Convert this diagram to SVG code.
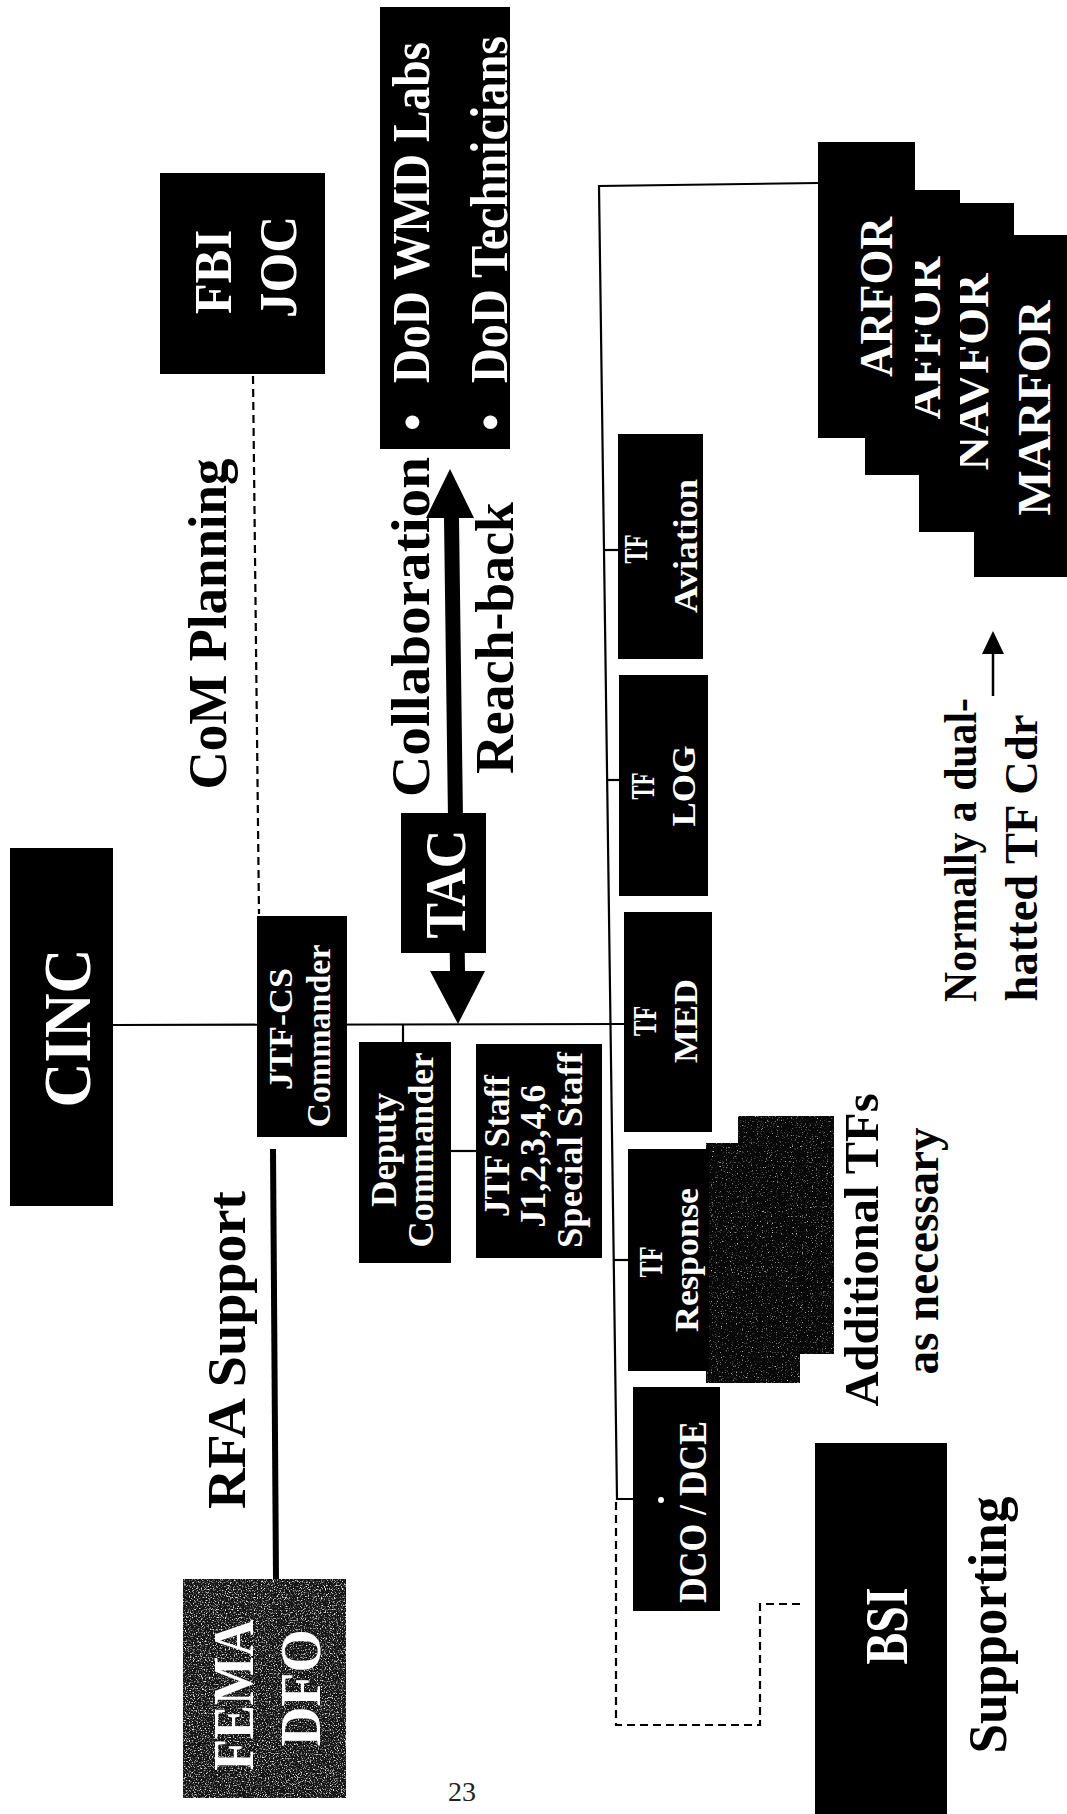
<svg xmlns="http://www.w3.org/2000/svg" width="1067" height="1814" viewBox="0 0 1067 1814">
<defs>
<style>
.w{fill:#fff;font-family:"Liberation Serif","Times New Roman",serif;font-weight:bold}
.k{fill:#000;font-family:"Liberation Serif","Times New Roman",serif;font-weight:bold}
.box{fill:#000}
.ln{stroke:#000;stroke-width:2.2;fill:none}
.dash{stroke:#000;stroke-width:2.2;fill:none;stroke-dasharray:8 5}
</style>
<filter id="spkL" x="0" y="0" width="1" height="1">
<feTurbulence type="fractalNoise" baseFrequency="0.75" numOctaves="2" seed="7" result="n"/>
<feColorMatrix in="n" type="matrix" values="0 0 0 0 0.8 0 0 0 0 0.8 0 0 0 0 0.8 4 0 0 0 -2.05" result="s"/>
<feComposite in="s" in2="SourceGraphic" operator="in"/>
</filter>
<filter id="spkD" x="0" y="0" width="1" height="1">
<feTurbulence type="fractalNoise" baseFrequency="0.8" numOctaves="2" seed="3" result="n"/>
<feColorMatrix in="n" type="matrix" values="0 0 0 0 0.6 0 0 0 0 0.6 0 0 0 0 0.6 4 0 0 0 -2.45" result="s"/>
<feComposite in="s" in2="SourceGraphic" operator="in"/>
</filter>
</defs>
<rect x="0" y="0" width="1067" height="1814" fill="#fff"/>

<g id="connectors">
<line class="ln" x1="113" y1="1025" x2="626" y2="1024"/>
<line class="ln" x1="403" y1="1025" x2="403" y2="1043"/>
<line class="ln" x1="451" y1="1151" x2="477" y2="1151"/>
<path class="ln" d="M818,183 L599,186 L617,1499 L634,1499"/>
<line class="ln" x1="604" y1="550" x2="619" y2="550"/>
<line class="ln" x1="607" y1="780" x2="620" y2="780"/>
<line class="ln" x1="614" y1="1260" x2="629" y2="1260"/>
<line class="dash" x1="253" y1="376" x2="259" y2="914"/>
<line stroke="#000" stroke-width="6" x1="273" y1="1149" x2="276" y2="1580"/>
<path class="dash" d="M616,1502 L616,1725 L760,1725 L760,1604 L802,1604"/>
<polygon fill="#000" points="450,469 474,518 459,518 465,971 485,971 458,1024 430,971 450,971 444,518 426,518"/>
<line stroke="#000" stroke-width="2.5" x1="993" y1="696" x2="993" y2="650"/>
<polygon fill="#000" points="993,631 1004,654 982,654"/>
</g>

<g id="fbi-joc">
<rect class="box" x="160" y="173" width="165" height="201"/>
<text class="w" font-size="52" text-anchor="middle" textLength="84" lengthAdjust="spacingAndGlyphs" transform="translate(231,272) rotate(-90)">FBI</text>
<text class="w" font-size="52" text-anchor="middle" textLength="102" lengthAdjust="spacingAndGlyphs" transform="translate(296,267) rotate(-90)">JOC</text>
</g>

<g id="dod">
<rect class="box" x="380" y="7" width="130" height="442"/>
<text class="w" font-size="50" transform="translate(429,431) rotate(-90)">•</text>
<text class="w" font-size="52" textLength="341" lengthAdjust="spacingAndGlyphs" transform="translate(429,383) rotate(-90)">DoD WMD Labs</text>
<text class="w" font-size="50" transform="translate(507,431) rotate(-90)">•</text>
<text class="w" font-size="52" textLength="347" lengthAdjust="spacingAndGlyphs" transform="translate(507,383) rotate(-90)">DoD Technicians</text>
</g>

<g id="forces">
<rect class="box" x="974" y="235" width="93" height="342"/>
<text class="w" font-size="46" text-anchor="middle" textLength="215" lengthAdjust="spacingAndGlyphs" transform="translate(1050,408) rotate(-90)">MARFOR</text>
<rect class="box" x="919" y="203" width="95" height="329"/>
<text class="w" font-size="46" text-anchor="middle" textLength="197" lengthAdjust="spacingAndGlyphs" transform="translate(988,372) rotate(-90)">NAVFOR</text>
<rect class="box" x="865" y="190" width="95" height="285"/>
<text class="w" font-size="46" text-anchor="middle" textLength="163" lengthAdjust="spacingAndGlyphs" transform="translate(940,338) rotate(-90)">AFFOR</text>
<rect class="box" x="818" y="142" width="97" height="296"/>
<text class="w" font-size="46" text-anchor="middle" textLength="160" lengthAdjust="spacingAndGlyphs" transform="translate(892,297) rotate(-90)">ARFOR</text>
</g>

<g id="cinc">
<rect class="box" x="10" y="848" width="103" height="358"/>
<text class="w" font-size="68" text-anchor="middle" textLength="159" lengthAdjust="spacingAndGlyphs" transform="translate(90,1028) rotate(-90)">CINC</text>
</g>

<g id="jtf-cs">
<rect class="box" x="257" y="916" width="90" height="221"/>
<text class="w" font-size="34" text-anchor="middle" textLength="122" lengthAdjust="spacingAndGlyphs" transform="translate(292,1029) rotate(-90)">JTF-CS</text>
<text class="w" font-size="34" text-anchor="middle" textLength="183" lengthAdjust="spacingAndGlyphs" transform="translate(330,1036) rotate(-90)">Commander</text>
</g>

<g id="tac">
<rect class="box" x="401" y="813" width="85" height="140"/>
<text class="w" font-size="56" text-anchor="middle" textLength="109" lengthAdjust="spacingAndGlyphs" transform="translate(465,884) rotate(-90)">TAC</text>
</g>

<g id="deputy">
<rect class="box" x="359" y="1042" width="92" height="221"/>
<text class="w" font-size="35" text-anchor="middle" textLength="114" lengthAdjust="spacingAndGlyphs" transform="translate(396,1150) rotate(-90)">Deputy</text>
<text class="w" font-size="35" text-anchor="middle" textLength="195" lengthAdjust="spacingAndGlyphs" transform="translate(433,1150) rotate(-90)">Commander</text>
</g>

<g id="jtf-staff">
<rect class="box" x="476" y="1044" width="126" height="214"/>
<text class="w" font-size="36" text-anchor="middle" textLength="142" lengthAdjust="spacingAndGlyphs" transform="translate(509,1146) rotate(-90)">JTF Staff</text>
<text class="w" font-size="36" text-anchor="middle" textLength="143" lengthAdjust="spacingAndGlyphs" transform="translate(545,1156) rotate(-90)">J1,2,3,4,6</text>
<text class="w" font-size="36" text-anchor="middle" textLength="196" lengthAdjust="spacingAndGlyphs" transform="translate(582,1150) rotate(-90)">Special Staff</text>
</g>

<g id="tf-aviation">
<rect class="box" x="618" y="434" width="85" height="225"/>
<text class="w" font-size="34" text-anchor="middle" textLength="29" lengthAdjust="spacingAndGlyphs" transform="translate(647,549) rotate(-90)">TF</text>
<text class="w" font-size="34" text-anchor="middle" textLength="134" lengthAdjust="spacingAndGlyphs" transform="translate(697,546) rotate(-90)">Aviation</text>
</g>

<g id="tf-log">
<rect class="box" x="619" y="675" width="89" height="221"/>
<text class="w" font-size="34" text-anchor="middle" textLength="27" lengthAdjust="spacingAndGlyphs" transform="translate(654,786) rotate(-90)">TF</text>
<text class="w" font-size="34" text-anchor="middle" textLength="81" lengthAdjust="spacingAndGlyphs" transform="translate(695,786) rotate(-90)">LOG</text>
</g>

<g id="tf-med">
<rect class="box" x="624" y="912" width="88" height="220"/>
<text class="w" font-size="34" text-anchor="middle" textLength="30" lengthAdjust="spacingAndGlyphs" transform="translate(656,1021) rotate(-90)">TF</text>
<text class="w" font-size="34" text-anchor="middle" textLength="84" lengthAdjust="spacingAndGlyphs" transform="translate(697,1021) rotate(-90)">MED</text>
</g>

<g id="additional-tfs">
<polygon fill="#080808" points="706,1143 738,1143 738,1116 834,1116 834,1354 800,1354 800,1383 706,1383"/>
<polygon fill="#fff" filter="url(#spkD)" points="706,1143 738,1143 738,1116 834,1116 834,1354 800,1354 800,1383 706,1383"/>
</g>

<g id="tf-response">
<rect class="box" x="628" y="1149" width="81" height="222"/>
<text class="w" font-size="34" text-anchor="middle" textLength="31" lengthAdjust="spacingAndGlyphs" transform="translate(662,1262) rotate(-90)">TF</text>
<text class="w" font-size="34" text-anchor="middle" textLength="144" lengthAdjust="spacingAndGlyphs" transform="translate(698,1260) rotate(-90)">Response</text>
</g>

<g id="dco-dce">
<rect class="box" x="633" y="1387" width="87" height="224"/>
<text class="w" font-size="40" text-anchor="middle" textLength="182" lengthAdjust="spacingAndGlyphs" transform="translate(706,1512) rotate(-90)">DCO / DCE</text>
<circle cx="661" cy="1500" r="3" fill="#fff"/>
</g>

<g id="bsi">
<rect class="box" x="815" y="1443" width="132" height="371"/>
<text class="w" font-size="62" text-anchor="middle" textLength="77" lengthAdjust="spacingAndGlyphs" transform="translate(907,1626) rotate(-90)">BSI</text>
</g>

<g id="fema-dfo">
<rect x="183" y="1579" width="163" height="219" fill="#141414"/>
<rect x="183" y="1579" width="163" height="219" fill="#fff" filter="url(#spkL)"/>
<text class="w" font-size="58" text-anchor="middle" textLength="151" lengthAdjust="spacingAndGlyphs" transform="translate(253,1695) rotate(-90)">FEMA</text>
<text class="w" font-size="58" text-anchor="middle" textLength="117" lengthAdjust="spacingAndGlyphs" transform="translate(320,1688) rotate(-90)">DFO</text>
</g>

<g id="labels">
<text class="k" font-size="54" text-anchor="middle" textLength="331" lengthAdjust="spacingAndGlyphs" transform="translate(226,624) rotate(-90)">CoM Planning</text>
<text class="k" font-size="54" text-anchor="middle" textLength="340" lengthAdjust="spacingAndGlyphs" transform="translate(429,627) rotate(-90)">Collaboration</text>
<text class="k" font-size="54" text-anchor="middle" textLength="272" lengthAdjust="spacingAndGlyphs" transform="translate(513,638) rotate(-90)">Reach-back</text>
<text class="k" font-size="54" text-anchor="middle" textLength="318" lengthAdjust="spacingAndGlyphs" transform="translate(245,1350) rotate(-90)">RFA Support</text>
<text class="k" font-size="48" text-anchor="middle" textLength="313" lengthAdjust="spacingAndGlyphs" transform="translate(878,1250) rotate(-90)">Additional TFs</text>
<text class="k" font-size="48" text-anchor="middle" textLength="247" lengthAdjust="spacingAndGlyphs" transform="translate(938,1251) rotate(-90)">as necessary</text>
<text class="k" font-size="46" text-anchor="middle" textLength="304" lengthAdjust="spacingAndGlyphs" transform="translate(976,850) rotate(-90)">Normally a dual-</text>
<text class="k" font-size="46" text-anchor="middle" textLength="287" lengthAdjust="spacingAndGlyphs" transform="translate(1037,858) rotate(-90)">hatted TF Cdr</text>
<text class="k" font-size="54" text-anchor="middle" textLength="257" lengthAdjust="spacingAndGlyphs" transform="translate(1006,1625) rotate(-90)">Supporting</text>
<text x="462" y="1801" font-family="Liberation Serif, serif" font-size="28" fill="#222" text-anchor="middle">23</text>
</g>
</svg>
